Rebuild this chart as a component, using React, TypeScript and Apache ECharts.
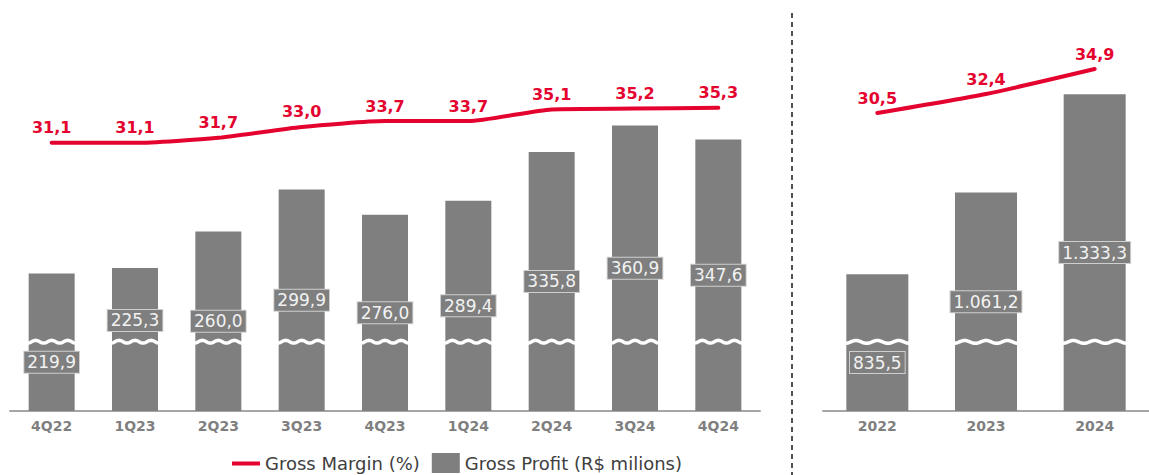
import React, { useEffect, useRef } from "react";
import * as echarts from "echarts";

const quarters = ["4Q22", "1Q23", "2Q23", "3Q23", "4Q23", "1Q24", "2Q24", "3Q24", "4Q24"];
const quarterProfit = [219.9, 225.3, 260.0, 299.9, 276.0, 289.4, 335.8, 360.9, 347.6];
const quarterMargin = [31.1, 31.1, 31.7, 33.0, 33.7, 33.7, 35.1, 35.2, 35.3];

const years = ["2022", "2023", "2024"];
const yearProfit = [835.5, 1061.2, 1333.3];
const yearMargin = [30.5, 32.4, 34.9];

// axis-break levels (in R$ millions) where the wavy cut is drawn
const quarterBreak = 155;
const yearBreak = 648;

const RED = "#E4032E";
const GRAY = "#7F7F7F";
const FONT = "DejaVu Sans";

const fmt = (v: number) => {
  const [i, d] = v.toFixed(1).split(".");
  return i.replace(/\B(?=(\d{3})+(?!\d))/g, ".") + "," + d;
};

const waveItem = (barW: number) => (params: any, api: any) => {
  const c = api.coord([api.value(0), api.value(1)]);
  const pts: number[][] = [];
  const n = 60;
  for (let i = 0; i <= n; i++) {
    const x = c[0] - barW / 2 + (barW * i) / n;
    const y = c[1] + 1.4 * Math.cos((i / n) * 3 * 2 * Math.PI);
    pts.push([x, y]);
  }
  return {
    type: "polyline",
    shape: { points: pts },
    style: { stroke: "#ffffff", lineWidth: 3.5, fill: null },
  };
};

const barLabel = {
  show: true,
  position: "inside",
  formatter: (p: any) => fmt(p.value),
  color: "#F2F2F2",
  fontFamily: FONT,
  fontSize: 17,
  lineHeight: 20,
  backgroundColor: GRAY,
  borderColor: "#CFCFCF",
  borderWidth: 1,
  padding: [1, 3, 0, 3],
};

const lineLabel = {
  show: true,
  position: "top",
  distance: 6,
  formatter: (p: any) => fmt(p.value),
  color: RED,
  fontFamily: FONT,
  fontWeight: "bold",
  fontSize: 16,
};

const labelShift: Record<string, number> = { "4Q22": 20, "1Q23": -19, "2022": 20 };

export default function App() {
  const ref = useRef<HTMLDivElement>(null);
  useEffect(() => {
    document.body.style.margin = "0";
    const chart = echarts.init(ref.current!, null, { renderer: "svg" });
    const xAxisCommon = {
      type: "category",
      axisTick: { show: false },
      axisLine: { onZero: false, lineStyle: { color: "#A6A6A6", width: 2 } },
      axisLabel: { color: GRAY, fontFamily: FONT, fontWeight: "bold", fontSize: 14, margin: 8 },
    };
    const mkBars = (cats: string[], vals: number[]) =>
      vals.map((v, i) => ({
        value: v,
        label: labelShift[cats[i]] ? { offset: [0, labelShift[cats[i]]] } : undefined,
      }));
    chart.setOption({
      animation: false,
      textStyle: { fontFamily: FONT },
      grid: [
        { left: 10, right: 389, top: 10, bottom: 64 },
        { left: 823, right: -14, top: 10, bottom: 64 },
      ],
      xAxis: [
        { ...xAxisCommon, gridIndex: 0, data: quarters },
        { ...xAxisCommon, gridIndex: 1, data: years },
      ],
      yAxis: [
        { type: "value", gridIndex: 0, min: 89, max: 471, show: false },
        { type: "value", gridIndex: 0, min: -1, max: 47, show: false },
        { type: "value", gridIndex: 1, min: 457, max: 1566, show: false },
        { type: "value", gridIndex: 1, min: 0.7, max: 40.8, show: false },
      ],
      legend: {
        left: 232,
        top: 453,
        padding: 0,
        itemWidth: 28,
        itemHeight: 20,
        itemGap: 12,
        textStyle: { color: "#404040", fontSize: 18, fontFamily: FONT },
        data: [
          {
            name: "Gross Margin (%)",
            icon: "path://M0,0H0.01V0.01H0Z M0,8.5H28V12.5H0Z M27.99,19.99H28V20H27.99Z",
          },
          { name: "Gross Profit (R$ milions)", icon: "rect" },
        ],
      },
      series: [
        {
          name: "Gross Profit (R$ milions)",
          type: "bar",
          xAxisIndex: 0,
          yAxisIndex: 0,
          barWidth: 46,
          itemStyle: { color: GRAY },
          label: barLabel,
          data: mkBars(quarters, quarterProfit),
          z: 2,
        },
        {
          type: "custom",
          xAxisIndex: 0,
          yAxisIndex: 0,
          renderItem: waveItem(48),
          data: quarters.map((_, i) => [i, quarterBreak]),
          z: 3,
          silent: true,
        },
        {
          name: "Gross Margin (%)",
          type: "line",
          xAxisIndex: 0,
          yAxisIndex: 1,
          smooth: 0.2,
          symbol: "circle",
          symbolSize: 2,
          itemStyle: { color: RED },
          lineStyle: { color: RED, width: 4, cap: "round" },
          label: lineLabel,
          data: quarterMargin,
          z: 4,
        },
        {
          name: "Gross Profit (R$ milions)",
          type: "bar",
          xAxisIndex: 1,
          yAxisIndex: 2,
          barWidth: 62,
          itemStyle: { color: GRAY },
          label: barLabel,
          data: mkBars(years, yearProfit),
          z: 2,
        },
        {
          type: "custom",
          xAxisIndex: 1,
          yAxisIndex: 2,
          renderItem: waveItem(64),
          data: years.map((_, i) => [i, yearBreak]),
          z: 3,
          silent: true,
        },
        {
          name: "Gross Margin (%)",
          type: "line",
          xAxisIndex: 1,
          yAxisIndex: 3,
          smooth: 0.2,
          symbol: "circle",
          symbolSize: 2,
          itemStyle: { color: RED },
          lineStyle: { color: RED, width: 4, cap: "round" },
          label: lineLabel,
          data: yearMargin,
          z: 4,
        },
      ],
      graphic: [
        {
          type: "line",
          shape: { x1: 792, y1: 13, x2: 792, y2: 475 },
          style: { stroke: "#505050", lineWidth: 2, lineDash: [5, 4] },
          silent: true,
        },
      ],
    });
    return () => chart.dispose();
  }, []);
  return <div ref={ref} style={{ width: 1149, height: 475 }} />;
}
